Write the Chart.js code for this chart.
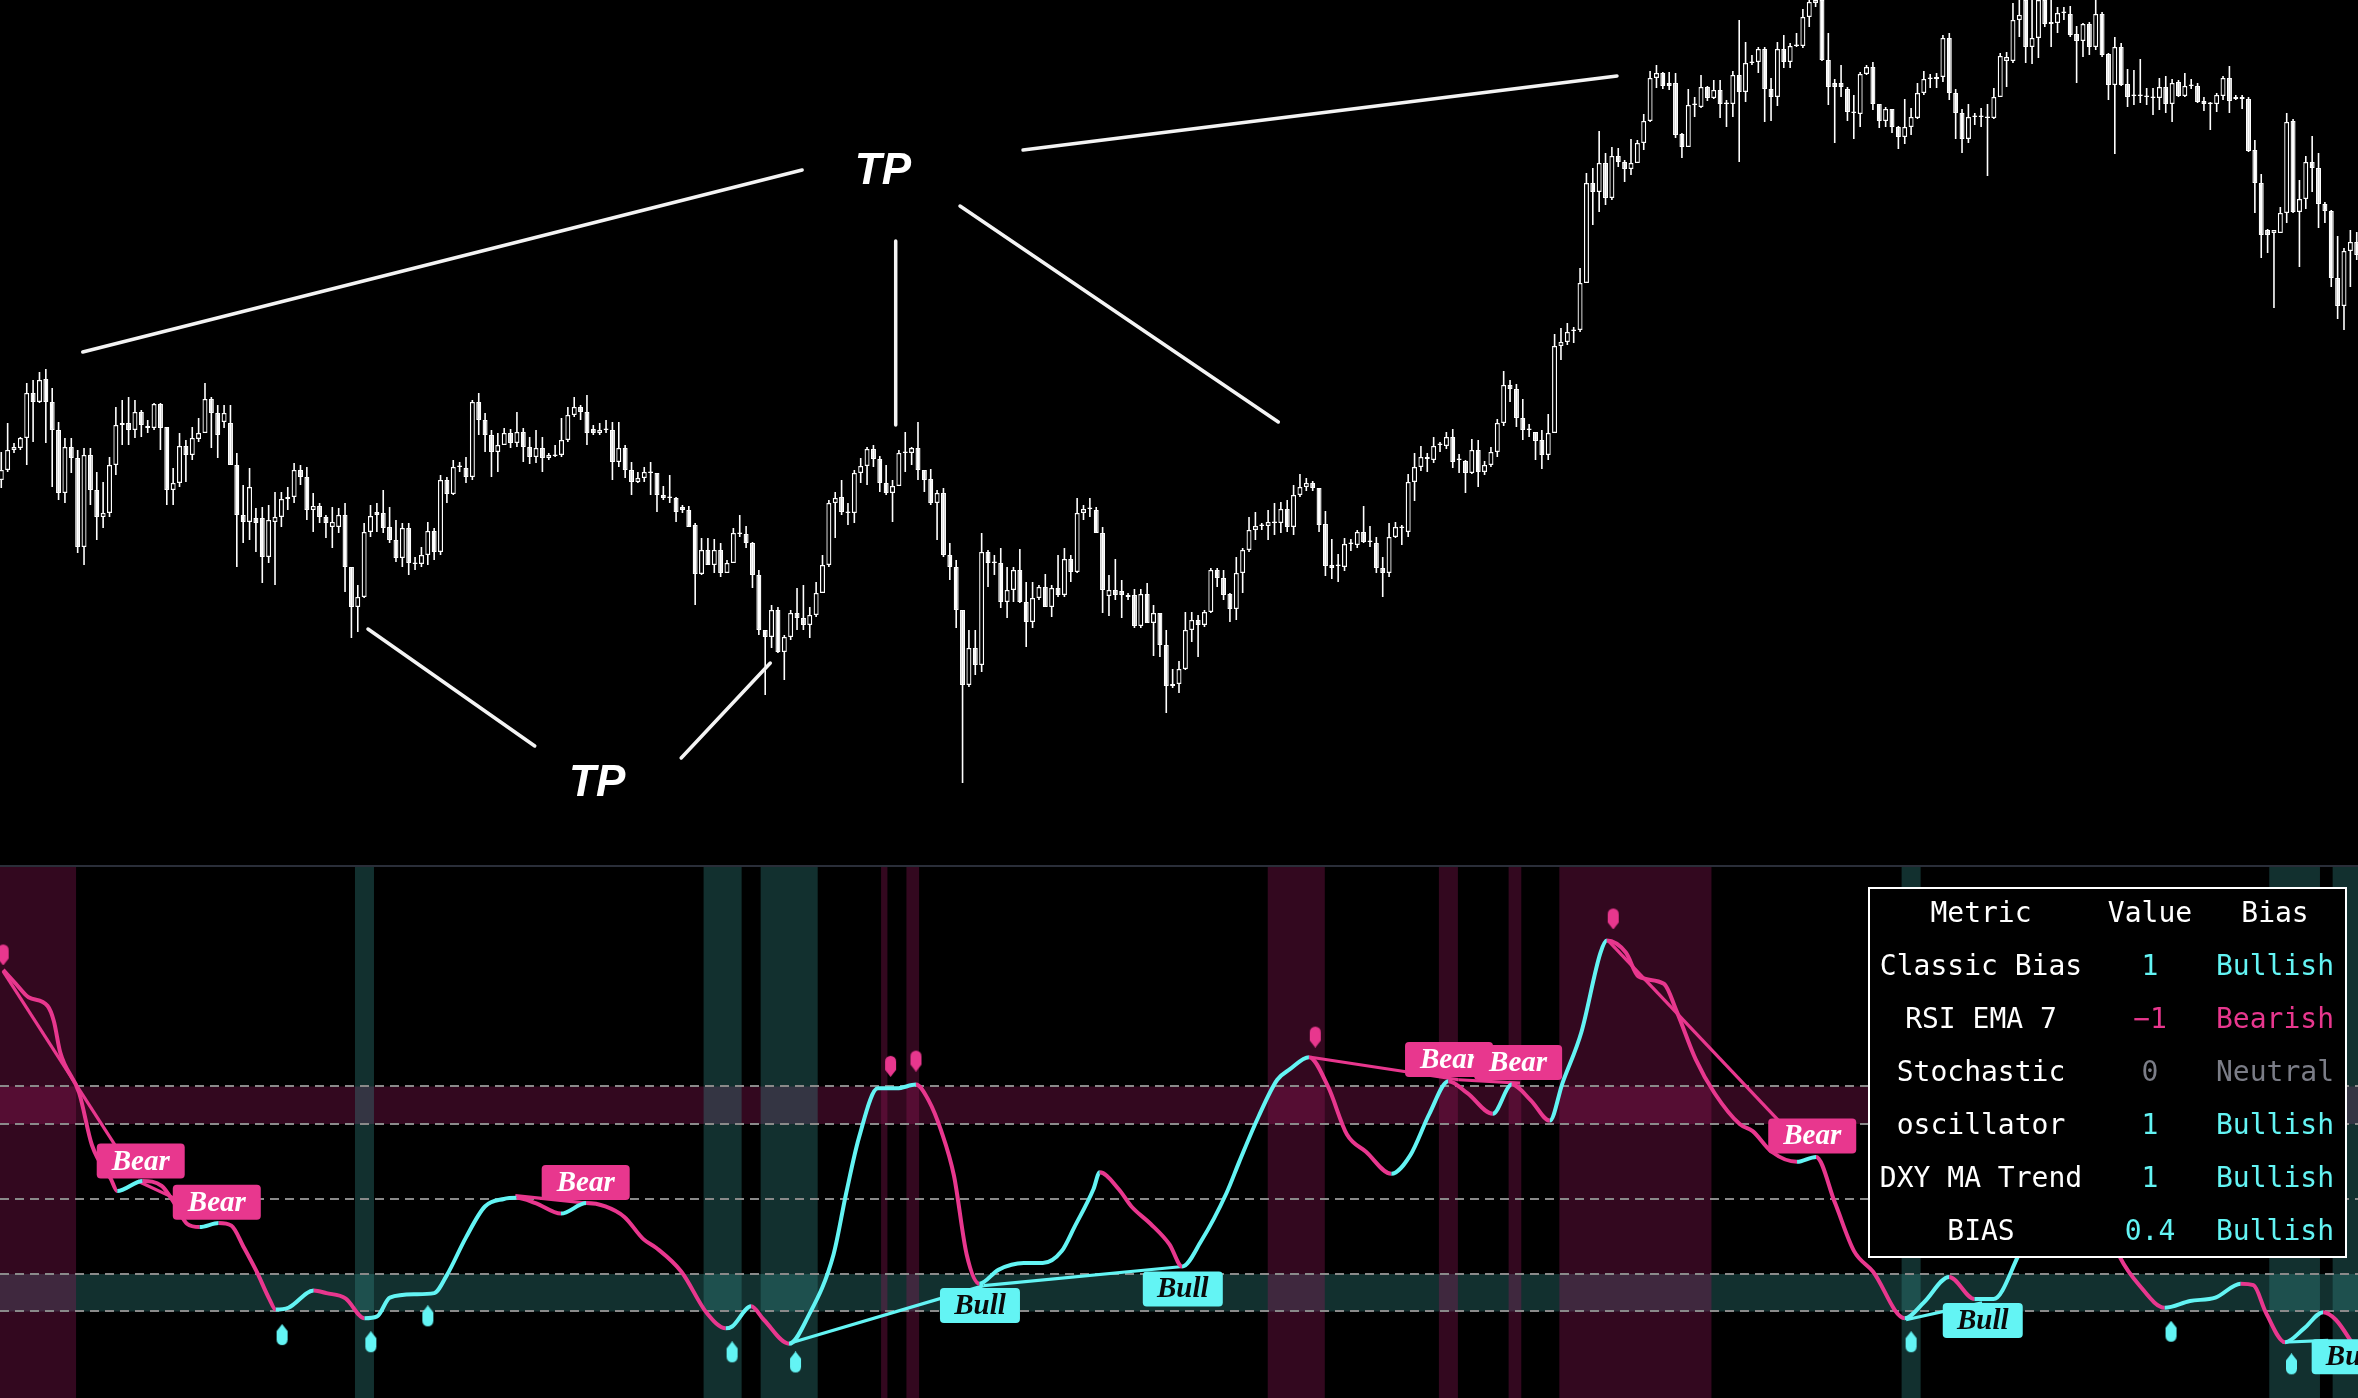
<!DOCTYPE html>
<html>
<head>
<meta charset="utf-8">
<title>Price + bias oscillator</title>
<script src="https://cdn.jsdelivr.net/npm/chart.js@4.4.1/dist/chart.umd.min.js"></script>
<style>
  html, body { margin: 0; padding: 0; background: #000; }
  body { width: 2358px; height: 1398px; position: relative; overflow: hidden; }
  #priceChart { position: absolute; left: 0; top: 0; }
  #oscChart { position: absolute; left: 0; top: 867px; }
  #sep { position: absolute; left: 0; top: 865px; width: 2358px; height: 2px; background: #2a2e39; }
  #biasTable {
    position: absolute; left: 1868px; top: 887px; width: 475px; height: 367px;
    border: 2px solid #fff; background: #000;
    font-family: "DejaVu Sans Mono", monospace; font-size: 28px; color: #fff;
  }
  #biasTable .row { position: absolute; left: 0; width: 475px; height: 53px; line-height: 53px; }
  #biasTable .row span { position: absolute; top: 0; text-align: center; white-space: pre; }
  #biasTable .c1 { left: 0; width: 222px; }
  #biasTable .c2 { left: 224px; width: 112px; }
  #biasTable .c3 { left: 336px; width: 138px; }
</style>
</head>
<body>
<canvas id="priceChart" width="2358" height="866"></canvas>
<div id="sep"></div>
<canvas id="oscChart" width="2358" height="531"></canvas>
<div id="biasTable"></div>
<script>
// ---- candles (price pane) ----
const opens = [
  520,530,550,552,562,607,598,621,598,570, 507,553,542,453,545,510,483,487,535,577,
  577,570,588,574,572,596,573,510,517,554, 545,561,567,601,587,578,577,535,485,478,
  482,482,443,478,483,501,503,530,523,490, 494,483,473,473,485,433,393,403,468,488,
  487,473,460,442,472,437,436,445,469,448, 520,506,533,532,523,598,580,565,548,555,
  567,557,568,553,543,552,542,545,545,560, 585,593,588,571,567,571,570,538,552,530,
  518,522,528,527,505,503,502,493,490,475, 426,450,435,450,427,437,467,466,457,425,
  370,363,390,348,363,387,382,375,385,407, 435,497,503,488,487,527,534,551,541,517,
  507,514,548,547,552,530,521,497,507,445, 433,390,315,352,335,448,437,437,398,410,
  430,398,378,402,413,393,412,405,441,428, 487,491,490,467,404,410,409,405,405,374,
  406,377,387,355,316,316,331,370,380,375, 388,430,422,406,391,427,450,470,474,474,
  478,477,491,473,505,513,517,512,476,435, 434,433,456,455,468,458,457,432,427,463,
  473,468,518,533,543,540,555,554,563,540, 539,527,550,528,535,548,577,615,611,582,
  570,568,560,545,567,654,658,669,670,717, 817,808,837,802,844,838,831,837,857,879,
  922,927,917,917,866,853,895,893,913,902, 910,896,896,925,908,937,938,951,911,903,
  951,938,954,954,983,997,1000,940,917,917, 911,888,886,926,933,896,879,891,873,863,
  873,882,907,921,921,923,962,907,887,861, 883,884,883,882,903,939,939,980,1000,953,
  962,1000,978,977,987,986,966,959,976,953, 986,946,915,953,916,904,904,904,903,902,
  913,896,918,904,914,914,899,897,896,904, 922,901,903,901,850,817,770,767,767,787,
  879,788,801,838,832,796,789,722,694,749,758
];
const highs = [
  548,577,557,563,617,620,628,631,612,578, 562,562,550,552,552,528,518,543,593,600,
  603,600,590,580,597,597,573,532,567,560, 573,582,617,603,595,595,595,547,515,532,
  492,493,495,508,508,513,537,535,533,507, 497,485,493,492,497,433,415,477,495,497,
  510,493,480,477,477,443,453,478,472,525, 523,540,538,543,600,607,587,570,567,572,
  571,588,572,563,570,563,547,555,582,593, 603,595,605,575,577,580,578,578,555,538,
  528,533,538,527,514,525,503,495,494,477, 462,462,461,457,440,472,485,474,458,430,
  370,395,393,365,390,412,415,393,418,445, 500,508,520,497,530,542,553,555,544,535,
  520,550,568,553,578,530,531,510,512,457, 440,390,370,370,467,450,445,452,433,433,
  451,418,418,415,426,415,445,452,445,502, 495,502,493,473,425,441,420,407,411,411,
  417,395,387,370,331,339,388,388,385,390, 432,432,430,407,443,452,483,488,477,490,
  497,498,500,515,526,522,519,512,489,461, 446,462,461,470,494,474,463,443,477,478,
  475,526,547,554,547,563,558,568,571,546, 540,561,560,539,553,581,629,620,616,601,
  576,568,570,586,666,672,677,673,732,827, 832,869,847,853,852,840,861,860,886,929,
  935,928,928,927,867,911,903,925,914,920, 920,900,929,980,958,945,953,953,922,958,
  965,957,967,991,1000,1010,1010,967,921,935, 913,905,928,935,938,896,893,891,874,901,
  892,917,929,926,927,965,967,911,891,896, 887,892,896,912,947,948,997,1005,1012,1008,
  1012,1010,1003,993,993,994,974,977,978,1003, 988,947,963,957,931,930,941,912,912,922,
  924,921,920,927,921,917,903,898,907,924, 934,905,905,903,860,826,771,770,793,887,
  881,820,844,864,847,798,790,764,752,770,768
];
const lows = [
  512,528,547,550,535,558,597,557,513,500, 497,527,447,435,495,460,472,483,525,555,
  555,562,563,567,570,550,495,495,513,518, 540,558,567,552,542,572,535,433,457,460,
  448,417,437,415,473,490,497,515,480,468, 477,462,452,467,408,362,368,402,463,468,
  467,457,438,433,425,430,433,435,440,445, 497,505,528,517,520,565,548,523,528,555,
  552,553,538,536,537,528,540,543,543,558, 583,580,555,565,565,567,520,533,522,505,
  517,518,505,488,500,497,478,487,473,395, 425,435,427,423,427,437,463,452,412,365,
  305,352,347,320,360,370,370,362,383,407, 433,462,485,475,477,517,515,533,508,505,
  478,514,528,535,520,508,495,460,443,420, 372,217,313,325,328,413,425,392,382,398,
  397,353,372,400,393,383,403,403,418,427, 480,483,467,387,384,400,382,400,372,372,
  377,344,343,287,312,307,330,358,343,373, 387,413,400,378,380,407,448,460,470,460,
  465,467,468,465,503,509,509,468,424,421, 418,429,449,452,457,453,427,403,423,462,
  455,463,499,529,528,537,548,551,532,527, 507,526,513,525,533,543,574,598,573,560,
  563,540,531,540,567,640,655,657,668,717, 775,788,795,800,833,818,825,837,850,878,
  912,911,910,862,842,853,883,892,899,901, 882,873,883,838,898,935,927,878,879,894,
  932,932,953,952,973,993,939,895,857,903, 879,861,873,925,890,872,873,867,851,856,
  865,881,905,912,912,918,900,861,847,857, 875,873,824,881,903,913,937,963,937,936,
  942,973,953,967,980,963,917,943,945,950, 943,900,846,914,893,895,897,895,885,890,
  887,878,903,903,911,897,889,870,888,900, 887,900,891,848,787,742,747,692,767,777,
  787,733,791,808,772,777,713,681,670,713,740
];
const closes = [
  530,550,553,562,607,598,620,598,570,507, 553,542,453,545,510,483,487,535,575,575,
  570,588,575,572,596,572,510,517,554,545, 562,567,601,587,565,587,535,485,478,513,
  477,443,480,483,501,503,530,523,490,494, 483,477,478,485,433,393,403,468,484,485,
  472,460,442,472,437,436,445,469,448,520, 506,533,534,523,598,580,565,548,555,567,
  557,568,553,543,552,542,545,544,560,585, 593,588,567,567,570,570,538,552,530,518,
  522,528,527,505,502,502,488,490,473,426, 450,435,450,427,437,467,466,457,425,370,
  363,390,348,363,387,382,375,385,407,435, 497,502,488,487,527,534,551,541,517,507,
  514,547,547,552,530,520,497,507,445,433, 390,315,352,335,448,437,437,398,410,430,
  398,378,402,413,393,412,405,441,428,487, 491,491,467,410,410,405,405,403,374,406,
  377,387,355,314,314,331,370,380,375,388, 430,422,405,391,427,450,470,474,475,478,
  477,491,473,505,513,517,512,475,434,432, 434,456,456,468,458,458,432,427,463,473,
  472,518,533,543,541,554,555,563,538,540, 527,550,528,535,548,577,615,611,582,570,
  571,559,545,567,654,658,668,669,717,817, 808,837,802,844,838,831,837,857,879,922,
  927,914,914,865,853,895,895,913,902,910, 896,896,925,908,937,938,951,911,903,951,
  938,954,955,983,998,1000,940,913,913,913, 888,887,926,933,896,879,891,873,863,873,
  883,907,921,921,923,962,907,887,861,883, 884,883,882,903,944,943,980,985,953,962,
  1000,976,976,987,988,965,959,976,953,986, 945,915,953,915,903,904,904,903,902,913,
  896,917,904,914,914,898,896,896,905,922, 899,903,901,849,817,765,765,770,787,878,
  788,801,838,832,796,789,722,694,749,758,745
];

// ---- TP annotations (bar index, price) ----
const tpLineX1 = [12.8, 140.5, 150.6, 160.5, 57.6, 106.8];
const tpLineY1 = [648, 759, 794, 850, 371, 242];
const tpLineX2 = [125.8, 140.5, 200.6, 253.8, 83.8, 120.8];
const tpLineY2 = [830, 575, 578, 924, 254, 337];
const tpTextX = [138.5, 93.6];
const tpTextY = [828, 216];

// ---- oscillator pane ----
const oscX = [0,2,4,7,8,9,12,14,17,18,22,25,27,29,31,34,36,38,40,42,43,45,49,51,54,57,59,61,65,68,
  70,73,76,79,81,84,88,92,95,98,101,103,107,111,114,115,118,120,124,127,131,133,135,138,141,144,146,148,150,152,
  154,157,161,164,167,169,172,173,176,178,181,184,186,189,193,195,198,201,203,206,209,212,215,219,222,225,228,231,235,238,
  241,244,246,249,252,253,256,258,262,264,267,270,274,276,279,283,286,289,292,295,300,303,307,311,314,318,322,327,331,334,
  337,341,345,349,353,355,357,360,363,366,368,371];
const oscV = [111.1,107.4,103.8,101.5,97.4,89.1,78.2,64.4,55.3,52.1,54.8,53.5,48.9,43.4,42.5,43.6,42.9,37,30.6,23.3,
  20.5,21,25.6,24.9,23.5,18.2,18.7,23.7,24.6,24.9, 29.7,39.7,48,50,50.3,48.9,46.1,48.9,48,45.2,39.3,37,30.6,19.6,15.5,
  16,21.4,17.8,11.4,18.7,35.2,51.6,66.3,79.5,79.5,80.5,76.3,68.1,56.2,35.2, 27.4,31.1,32.9,32.9,36.1,42.5,52.6,57.1,52.6,48,
  43.4,37.9,32,38.8,51.6,59.9,71.8,81.8,84.6,87.8,80,67.2,62.6,56.7,61.7,72.7,81.4,78.2,72.7,80.5, 76.3,70.9,80.9,94.6,115.7,
  118.9,115.7,109.3,107.4,100.1,87.3,78.2,69.9,68.1,62.6,59.9,61.2,48.9,36.1,30.6,18.2,22.4,29.2,23.3,23.3,35.2,50,56,47,34.3,
  27,21,22.8,23.7,27.4,27,19.6,11.8,15.5,19.8,17.8,10.5];

// divergence lines: start/end (bar index, value) and side
const divX1 = [0, 21.2, 80.8, 206.3, 229.6, 253.2, 123.8, 154.7, 300.2, 359.6];
const divY1 = [110.7, 54.8, 50.9, 87.8, 81.8, 118.9, 11.4, 26.9, 17.8, 11.8];
const divX2 = [17.6, 26.9, 92.1, 229.6, 239.3, 280.1, 154.7, 186.1, 312.2, 366.8];
const divY2 = [64.5, 50.3, 48.9, 81.8, 80.9, 70.9, 26.9, 32, 22.3, 12.3];
const divSide = ['bear','bear','bear','bear','bear','bear','bull','bull','bull','bull'];

// signal labels
const sigX = [21.7, 33.7, 91.9, 154.1, 186.1, 228.1, 239, 285.4, 312.3, 370.5];
const sigY = [60.1, 49.1, 54.4, 21.6, 26, 87.2, 86.4, 66.8, 17.6, 7.9];
const sigText = ['Bear','Bear','Bear','Bull','Bull','Bear','Bear','Bear','Bull','Bull'];

// pivot markers
const lowMarkX = [44, 58, 67, 115, 125, 301, 342, 361];
const lowMarkY = [13.7, 11.8, 18.7, 9.1, 6.4, 11.8, 14.6, 5.9];
const highMarkX = [0, 140, 144, 207, 254];
const highMarkY = [115.2, 85.5, 86.9, 93.3, 124.8];

// shaded bar ranges and levels
const pinkCols = [[0, 11], [139, 139], [143, 144], [200, 208], [227, 229], [238, 239], [246, 269]];
const tealCols = [[56, 58], [111, 116], [120, 128], [300, 302], [358, 365], [368, 371]];
const levels = [80, 70, 50, 30, 20];
const obZone = [70, 80];
const osZone = [20, 30];

// table
const metricNames = ['Classic Bias', 'RSI EMA 7', 'Stochastic', 'oscillator', 'DXY MA Trend', 'BIAS'];
const metricValues = ['1', '\u22121', '0', '1', '1', '0.4'];
const metricBias = ['Bullish', 'Bearish', 'Neutral', 'Bullish', 'Bullish', 'Bullish'];

const CYAN = '#63f4f4';
const PINK = '#e8378e';
const GRAY = '#7b7d87';

Chart.defaults.font.family = '"DejaVu Sans", sans-serif';

// ---------- price pane ----------
const wickData = highs.map((h, i) => ({ x: i, y: [lows[i], h] }));
const bodyData = opens.map((o, i) => ({ x: i, y: [Math.min(o, closes[i]), Math.max(o, closes[i])] }));
const bodyFill = opens.map((o, i) => closes[i] >= o ? '#000000' : '#ffffff');

const tpLineSets = tpLineX1.map((x1, i) => ({
  type: 'line',
  data: [{ x: x1, y: tpLineY1[i] }, { x: tpLineX2[i], y: tpLineY2[i] }],
  borderColor: '#f4f4f4',
  borderWidth: 3.5,
  borderCapStyle: 'round',
  pointRadius: 0,
  order: 0
}));

const tpText = {
  id: 'tpText',
  afterDatasetsDraw(chart) {
    const { ctx, scales: { x, y } } = chart;
    ctx.save();
    ctx.font = 'italic bold 44px "Liberation Sans", Arial, sans-serif';
    ctx.fillStyle = '#ffffff';
    ctx.textAlign = 'center';
    ctx.textBaseline = 'middle';
    tpTextX.forEach((v, i) => ctx.fillText('TP', x.getPixelForValue(v), y.getPixelForValue(tpTextY[i])));
    ctx.restore();
  }
};

new Chart(document.getElementById('priceChart'), {
  type: 'bar',
  data: {
    datasets: [
      {
        label: 'wick', data: wickData, backgroundColor: '#ffffff', borderWidth: 0,
        barThickness: 1.6, inflateAmount: 0, grouped: false, order: 2
      },
      {
        label: 'body', data: bodyData, backgroundColor: bodyFill, borderColor: '#ffffff',
        borderWidth: 1.3, borderSkipped: false, barThickness: 5, minBarLength: 1.6,
        inflateAmount: 0, grouped: false, order: 1
      },
      ...tpLineSets
    ]
  },
  options: {
    responsive: false, animation: false, devicePixelRatio: 1, events: [],
    layout: { padding: 0, autoPadding: false },
    plugins: { legend: { display: false }, tooltip: { enabled: false } },
    scales: {
      x: { type: 'linear', min: -0.2, max: 370.2, offset: false, display: false },
      y: { min: 134, max: 1000, display: false }
    }
  },
  plugins: [tpText]
});

// ---------- oscillator pane ----------
function dropIcon(color, tipUp) {
  const c = document.createElement('canvas');
  c.width = 13; c.height = 22;
  const g = c.getContext('2d');
  g.fillStyle = color;
  g.beginPath();
  if (tipUp) {
    g.moveTo(6.5, 0); g.lineTo(12, 7); g.lineTo(12, 15.5);
    g.arc(6.5, 15.5, 5.5, 0, Math.PI, false);
    g.lineTo(1, 7);
  } else {
    g.moveTo(1, 6.5);
    g.arc(6.5, 6.5, 5.5, Math.PI, 0, false);
    g.lineTo(12, 15); g.lineTo(6.5, 22); g.lineTo(1, 15);
  }
  g.closePath();
  g.fill();
  return c;
}

const oscBackground = {
  id: 'oscBackground',
  beforeDatasetsDraw(chart) {
    const { ctx, chartArea: a, scales: { x, y } } = chart;
    const zone = (range, color) => {
      const top = y.getPixelForValue(range[1]);
      ctx.fillStyle = color;
      ctx.fillRect(a.left, top, a.width, y.getPixelForValue(range[0]) - top);
    };
    const cols = (list, color) => {
      ctx.fillStyle = color;
      list.forEach(([s, e]) => {
        const x0 = x.getPixelForValue(s - 0.5);
        ctx.fillRect(x0, a.top, x.getPixelForValue(e + 0.5) - x0, a.height);
      });
    };
    ctx.save();
    zone(obZone, 'rgba(155,24,94,0.33)');
    zone(osZone, 'rgba(55,145,142,0.33)');
    cols(pinkCols, 'rgba(155,24,94,0.33)');
    cols(tealCols, 'rgba(55,145,142,0.33)');
    ctx.strokeStyle = '#8a8a8a';
    ctx.lineWidth = 2;
    ctx.setLineDash([9, 6]);
    levels.forEach(v => {
      const py = Math.round(y.getPixelForValue(v));
      ctx.beginPath(); ctx.moveTo(a.left, py); ctx.lineTo(a.right, py); ctx.stroke();
    });
    ctx.restore();
  }
};

const signalLabels = {
  id: 'signalLabels',
  afterDatasetsDraw(chart) {
    const { ctx, scales: { x, y } } = chart;
    ctx.save();
    ctx.font = 'italic bold 29px "Liberation Serif", "DejaVu Serif", serif';
    ctx.textAlign = 'center';
    ctx.textBaseline = 'middle';
    sigText.forEach((t, i) => {
      const bear = t === 'Bear';
      const w = bear ? 88 : 80, h = 35, r = 4;
      const cx = x.getPixelForValue(sigX[i]), cy = y.getPixelForValue(sigY[i]);
      const l = cx - w / 2, tp = cy - h / 2;
      ctx.fillStyle = bear ? PINK : CYAN;
      ctx.beginPath();
      ctx.moveTo(l + r, tp);
      ctx.arcTo(l + w, tp, l + w, tp + h, r);
      ctx.arcTo(l + w, tp + h, l, tp + h, r);
      ctx.arcTo(l, tp + h, l, tp, r);
      ctx.arcTo(l, tp, l + w, tp, r);
      ctx.closePath();
      ctx.fill();
      ctx.fillStyle = bear ? '#ffffff' : '#0a0a0a';
      ctx.fillText(t, cx, cy + 1);
    });
    ctx.restore();
  }
};

const divSets = divX1.map((x1, i) => ({
  data: [{ x: x1, y: divY1[i] }, { x: divX2[i], y: divY2[i] }],
  borderColor: divSide[i] === 'bear' ? PINK : CYAN,
  borderWidth: 3.2,
  pointRadius: 0,
  order: 2
}));

new Chart(document.getElementById('oscChart'), {
  type: 'line',
  data: {
    datasets: [
      {
        label: 'oscillator',
        data: oscX.map((v, i) => ({ x: v, y: oscV[i] })),
        borderWidth: 4,
        borderColor: CYAN,
        cubicInterpolationMode: 'monotone',
        borderJoinStyle: 'round',
        pointRadius: 0,
        segment: { borderColor: c => c.p1.parsed.y >= c.p0.parsed.y ? CYAN : PINK },
        order: 1
      },
      ...divSets,
      {
        label: 'lows',
        data: lowMarkX.map((v, i) => ({ x: v, y: lowMarkY[i] })),
        showLine: false, pointStyle: dropIcon(CYAN, true), pointRadius: 6, order: 0
      },
      {
        label: 'highs',
        data: highMarkX.map((v, i) => ({ x: v, y: highMarkY[i] })),
        showLine: false, pointStyle: dropIcon(PINK, false), pointRadius: 6, order: 0
      }
    ]
  },
  options: {
    responsive: false, animation: false, devicePixelRatio: 1, events: [],
    layout: { padding: 0, autoPadding: false },
    plugins: { legend: { display: false }, tooltip: { enabled: false } },
    scales: {
      x: { type: 'linear', min: -0.5, max: 371.5, display: false },
      y: { min: -3.07, max: 138.53, display: false }
    }
  },
  plugins: [oscBackground, signalLabels]
});

// ---------- bias table ----------
const biasColor = b => b === 'Bullish' ? CYAN : b === 'Bearish' ? PINK : GRAY;
const table = document.getElementById('biasTable');
const rows = [['Metric', 'Value', 'Bias', '#fff', '#fff']].concat(
  metricNames.map((m, i) => [m, metricValues[i], metricBias[i], biasColor(metricBias[i]), biasColor(metricBias[i])])
);
rows.forEach((r, i) => {
  const row = document.createElement('div');
  row.className = 'row';
  row.style.top = (-3.5 + 53 * i) + 'px';
  row.innerHTML = '<span class="c1">' + r[0] + '</span>' +
    '<span class="c2" style="color:' + r[3] + '">' + r[1] + '</span>' +
    '<span class="c3" style="color:' + r[4] + '">' + r[2] + '</span>';
  table.appendChild(row);
});
</script>
</body>
</html>
